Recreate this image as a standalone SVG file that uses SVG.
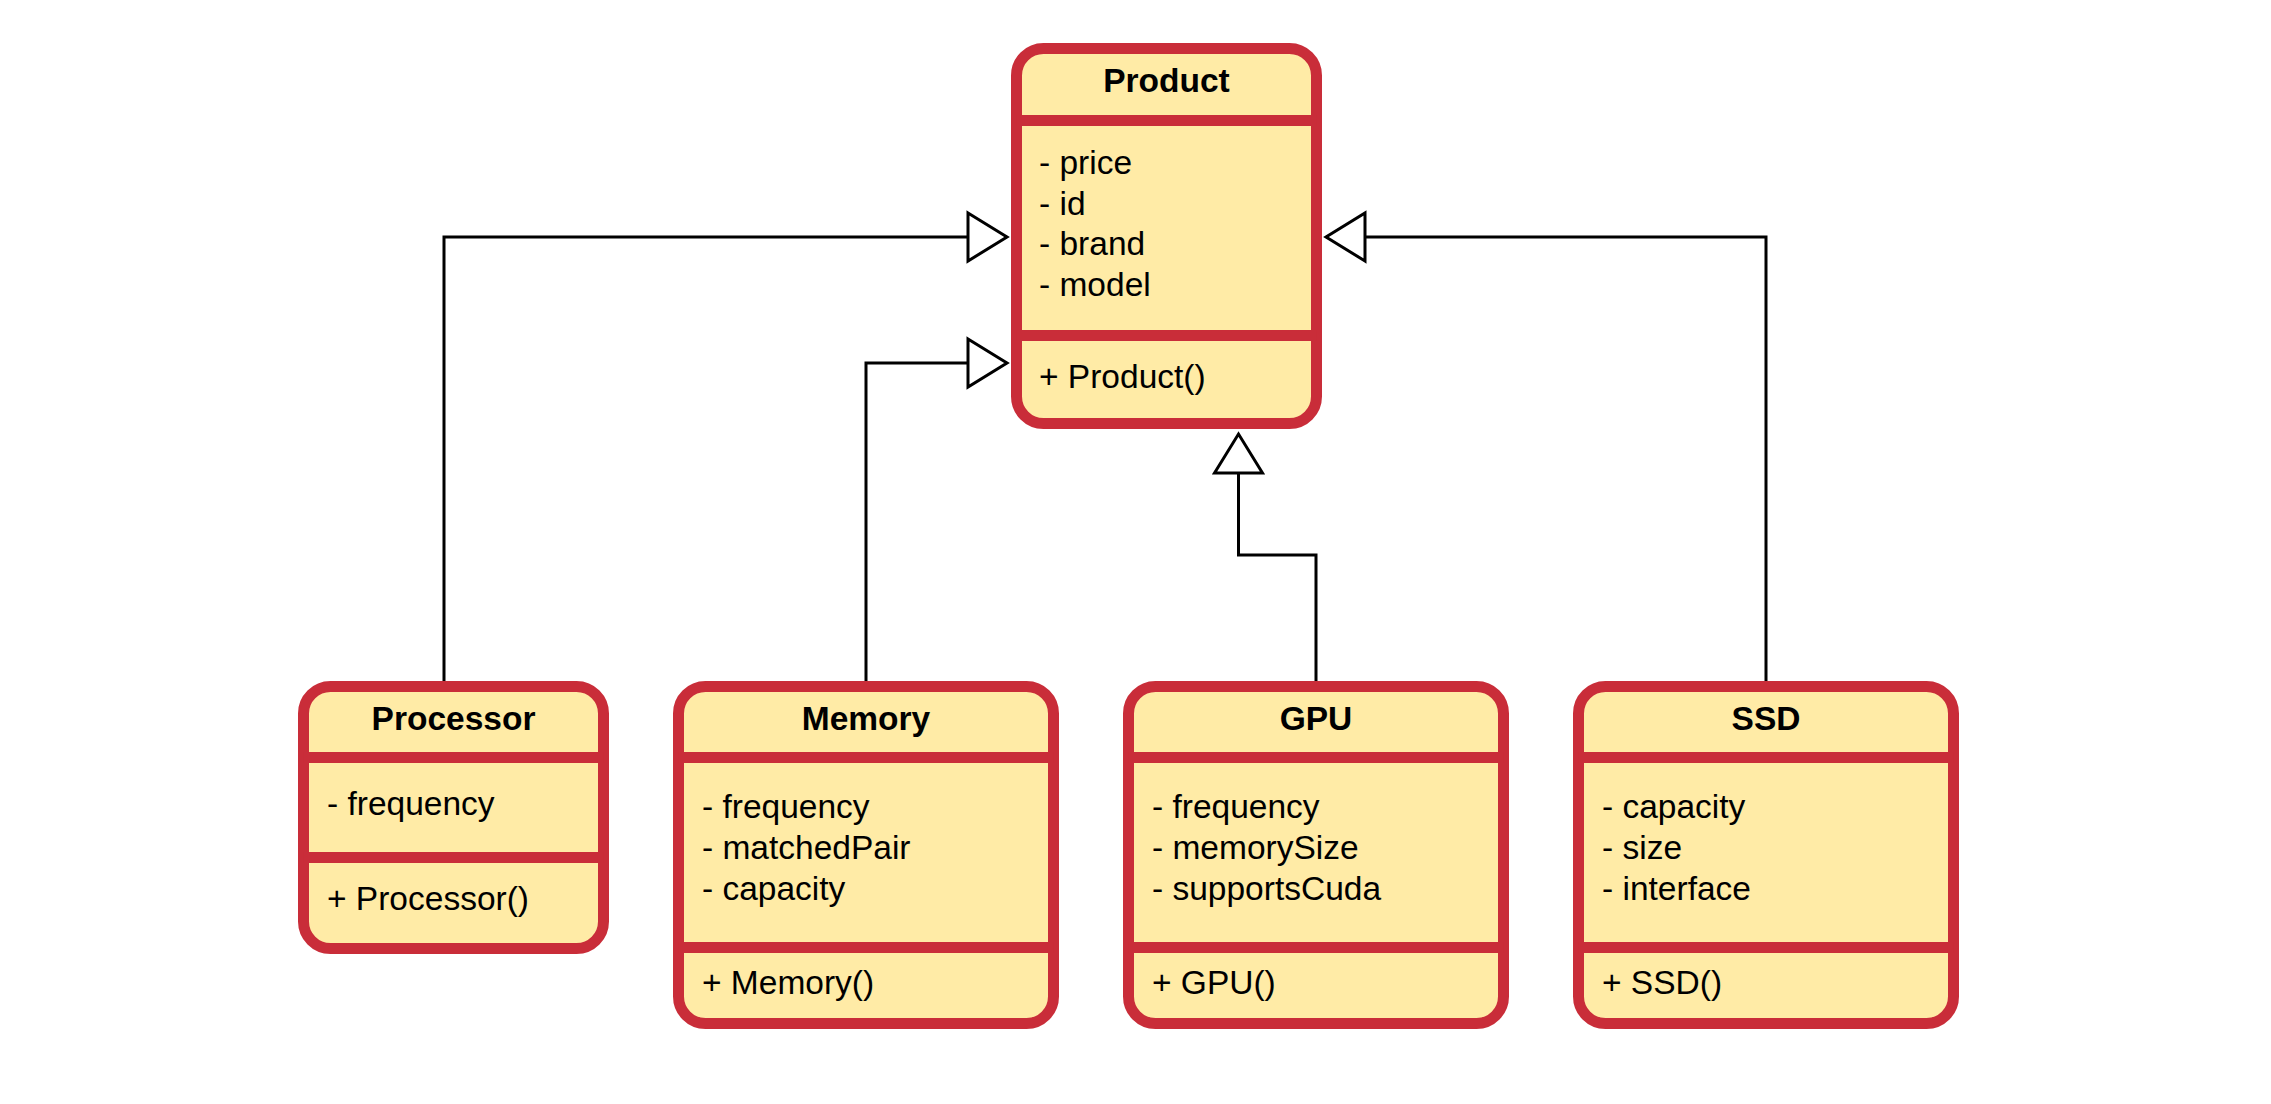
<svg xmlns="http://www.w3.org/2000/svg" width="2271" height="1104" viewBox="0 0 2271 1104">
<style>
.frame { fill:#FFEBA6; stroke:#C92D39; stroke-width:11; }
.div { stroke:#C92D39; stroke-width:11; }
.title { font-family:"Liberation Sans", Arial, sans-serif; font-weight:bold; font-size:33.5px; text-anchor:middle; fill:#000; }
.txt { font-family:"Liberation Sans", Arial, sans-serif; font-size:33.5px; fill:#000; }
.edge { fill:none; stroke:#000; stroke-width:3; }
</style>
<defs>
<marker id="hollow" markerUnits="userSpaceOnUse" viewBox="-44 -30 50 60" markerWidth="50" markerHeight="60" refX="0" refY="0" orient="auto" overflow="visible">
<path d="M-39,-24 L0,0 L-39,24 Z" fill="#fff" stroke="#000" stroke-width="3"/>
</marker>
</defs>
<rect width="2271" height="1104" fill="#fff"/>
<g id="connectors">
<path class="edge" d="M444,681 V237 H1007" marker-end="url(#hollow)"/>
<path class="edge" d="M866,681 V363 H1007" marker-end="url(#hollow)"/>
<path class="edge" d="M1316,681 V555 H1238.5 V434" marker-end="url(#hollow)"/>
<path class="edge" d="M1766,681 V237 H1326" marker-end="url(#hollow)"/>
</g>
<g id="product">
<rect class="frame" x="1016.5" y="48.5" width="300" height="375" rx="27"/>
<line class="div" x1="1016.5" y1="120.5" x2="1316.5" y2="120.5"/>
<line class="div" x1="1016.5" y1="335.5" x2="1316.5" y2="335.5"/>
<text class="title" x="1166.5" y="92">Product</text>
<text class="txt" x="1039" y="174">- price</text>
<text class="txt" x="1039" y="214.6">- id</text>
<text class="txt" x="1039" y="255.2">- brand</text>
<text class="txt" x="1039" y="295.8">- model</text>
<text class="txt" x="1039" y="388">+ Product()</text>
</g>
<g id="processor">
<rect class="frame" x="303.5" y="686.5" width="300" height="262" rx="27"/>
<line class="div" x1="303.5" y1="757.5" x2="603.5" y2="757.5"/>
<line class="div" x1="303.5" y1="857.5" x2="603.5" y2="857.5"/>
<text class="title" x="453.5" y="730">Processor</text>
<text class="txt" x="327" y="815">- frequency</text>
<text class="txt" x="327" y="910">+ Processor()</text>
</g>
<g id="memory">
<rect class="frame" x="678.5" y="686.5" width="375" height="337" rx="27"/>
<line class="div" x1="678.5" y1="757.5" x2="1053.5" y2="757.5"/>
<line class="div" x1="678.5" y1="947.5" x2="1053.5" y2="947.5"/>
<text class="title" x="866" y="730">Memory</text>
<text class="txt" x="702" y="818">- frequency</text>
<text class="txt" x="702" y="859">- matchedPair</text>
<text class="txt" x="702" y="900">- capacity</text>
<text class="txt" x="702" y="994">+ Memory()</text>
</g>
<g id="gpu">
<rect class="frame" x="1128.5" y="686.5" width="375" height="337" rx="27"/>
<line class="div" x1="1128.5" y1="757.5" x2="1503.5" y2="757.5"/>
<line class="div" x1="1128.5" y1="947.5" x2="1503.5" y2="947.5"/>
<text class="title" x="1316" y="730">GPU</text>
<text class="txt" x="1152" y="818">- frequency</text>
<text class="txt" x="1152" y="859">- memorySize</text>
<text class="txt" x="1152" y="900">- supportsCuda</text>
<text class="txt" x="1152" y="994">+ GPU()</text>
</g>
<g id="ssd">
<rect class="frame" x="1578.5" y="686.5" width="375" height="337" rx="27"/>
<line class="div" x1="1578.5" y1="757.5" x2="1953.5" y2="757.5"/>
<line class="div" x1="1578.5" y1="947.5" x2="1953.5" y2="947.5"/>
<text class="title" x="1766" y="730">SSD</text>
<text class="txt" x="1602" y="818">- capacity</text>
<text class="txt" x="1602" y="859">- size</text>
<text class="txt" x="1602" y="900">- interface</text>
<text class="txt" x="1602" y="994">+ SSD()</text>
</g>
</svg>
